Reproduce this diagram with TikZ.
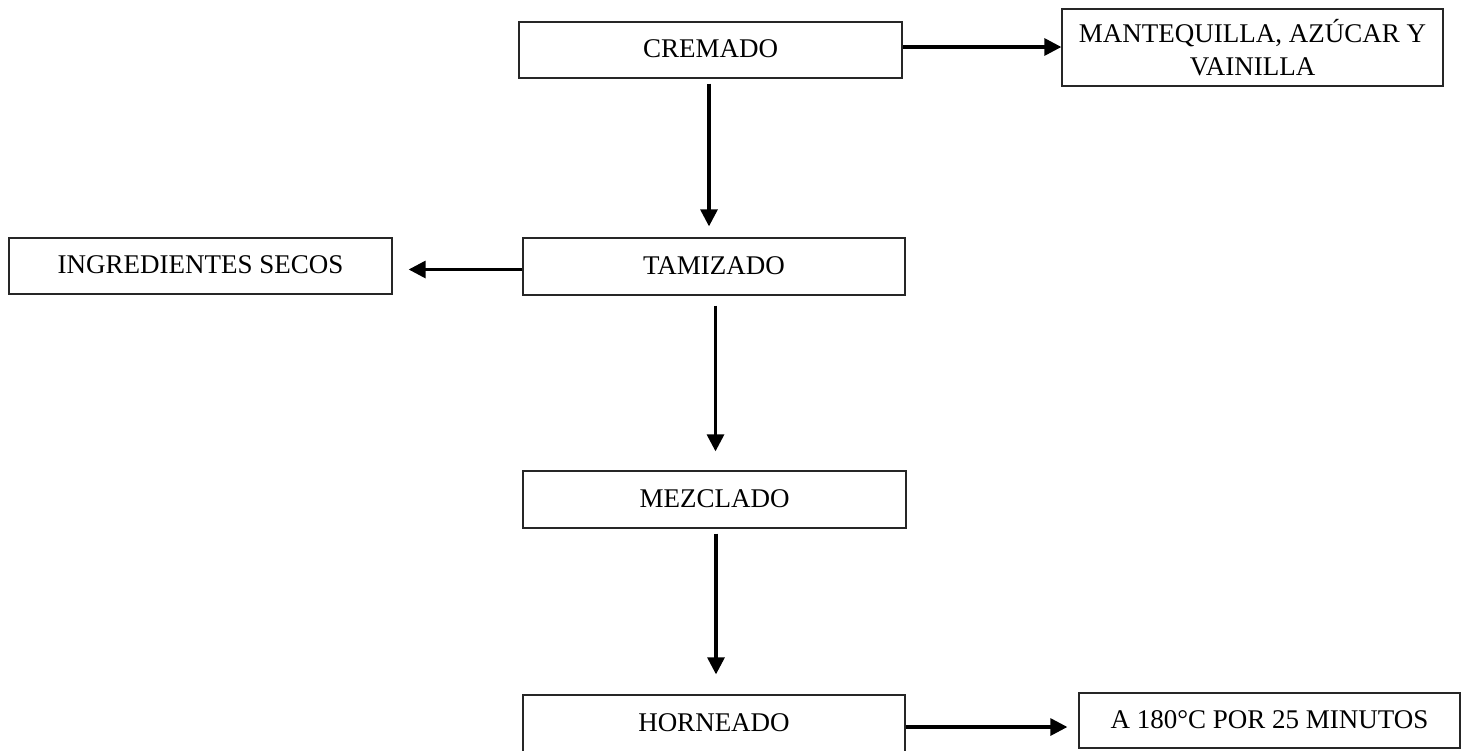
\documentclass[tikz,border=0pt]{standalone}
\usepackage{fontspec}
\setmainfont{Liberation Serif}
\usetikzlibrary{arrows.meta}
\begin{document}
\begin{tikzpicture}[x=1pt,y=-1pt,
  stepbox/.style={draw=black!85, line width=1.3pt, rectangle, inner sep=0pt,
    align=center, font=\fontsize{27}{32}\selectfont},
  flow/.style={line width=3.2pt, -{Triangle[length=17pt,width=17pt]}}]
\clip (0,0) rectangle (1470,750);
\fill[white] (0,0) rectangle (1470,750);

% process boxes
\node[stepbox, minimum width=383pt, minimum height=56pt] (cremado) at (710.5,50) {\raisebox{2pt}{CREMADO}};
\node[stepbox, minimum width=381pt, minimum height=77pt] (mant) at (1252.5,47.5) {MANTEQUILLA, AZÚCAR Y\\[1pt]VAINILLA};
\node[stepbox, minimum width=383pt, minimum height=56pt] (secos) at (200.5,266) {\raisebox{2pt}{INGREDIENTES SECOS}};
\node[stepbox, minimum width=382pt, minimum height=57pt] (tamizado) at (714,266.5) {\raisebox{2pt}{TAMIZADO}};
\node[stepbox, minimum width=383pt, minimum height=57pt] (mezclado) at (714.5,499.5) {\raisebox{2pt}{MEZCLADO}};
\node[stepbox, minimum width=382pt, minimum height=60pt] (horneado) at (714,725) {\raisebox{5pt}{HORNEADO}};
\node[stepbox, minimum width=381pt, minimum height=55pt] (temp) at (1269.5,720.5) {\raisebox{2pt}{A 180°C POR 25 MINUTOS}};

% connectors
\draw[flow] (cremado.east) ++(0,-3) coordinate (c1) -- (c1 -| mant.west);
\draw[flow, shorten <=5pt, shorten >=11pt] ([xshift=-1.5pt]cremado.south) coordinate (c2) -- (c2 |- tamizado.north);
\draw[flow, shorten >=16pt] ([yshift=-3pt]tamizado.west) coordinate (c3) -- (c3 -| secos.east);
\draw[flow, shorten <=10pt, shorten >=19pt] ([xshift=1.5pt]tamizado.south) coordinate (c4) -- (c4 |- mezclado.north);
\draw[flow, shorten <=5pt, shorten >=20pt] ([xshift=1.5pt]mezclado.south) coordinate (c5) -- (c5 |- horneado.north);
\draw[flow, shorten >=11pt] ([yshift=-2pt]horneado.east) coordinate (c6) -- (c6 -| temp.west);
\end{tikzpicture}
\end{document}
